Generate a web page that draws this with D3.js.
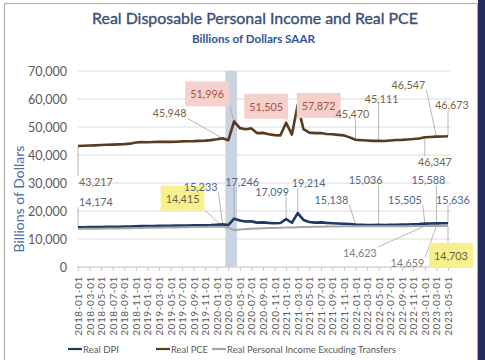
<!DOCTYPE html>
<html><head><meta charset="utf-8">
<script src="https://cdn.jsdelivr.net/npm/d3@7/dist/d3.min.js"></script>
<style>
body{margin:0;background:#fff}
svg{display:block}
text{font-family:Lato,'Open Sans',sans-serif}
</style>
</head><body>
<svg id="c" width="485" height="360"></svg>
<script>
// ---------- DATA ----------
const months = d3.timeMonth.range(new Date(2018,0,1), new Date(2023,5,1)).map(d3.timeFormat("%Y-%m-%d"));
const realDPI = [14174,14190,14230,14260,14290,14330,14360,14390,14420,14480,14540,14600,
  14640,14660,14690,14700,14730,14760,14790,14810,14850,14900,14930,14960,
  15100,15233,14950,17246,16600,16250,16300,15850,15950,15750,15600,15700,
  17099,15800,19214,16800,16100,15850,15950,15750,15650,15550,15450,15350,
  15138,15080,15020,14990,15036,15010,15060,15090,15120,15180,15250,15320,
  15505,15550,15588,15610,15636];
const realPCE = [43217,43300,43380,43450,43560,43650,43720,43800,43900,44050,44450,44600,
  44550,44620,44700,44720,44680,44750,44850,44900,44950,45050,45150,45300,
  45600,45948,45300,51996,49600,49200,49500,47800,47900,47400,47100,47000,
  51505,47300,57872,49200,48000,47800,47850,47500,47400,47200,47000,46300,
  45470,45300,45200,45050,45111,45000,45200,45350,45400,45550,45700,45900,
  46347,46450,46547,46600,46673];
const realPIxTransfers = [13600,13620,13650,13680,13700,13730,13760,13790,13820,13860,13900,13940,
  13990,14020,14050,14080,14110,14150,14180,14210,14250,14290,14330,14370,
  14390,14415,14050,13150,13350,13600,13700,13780,13850,13900,13950,14000,
  14080,14120,14200,14250,14300,14350,14400,14430,14470,14500,14540,14570,
  14560,14580,14560,14530,14520,14510,14530,14550,14560,14580,14600,14610,
  14623,14640,14659,14680,14703];
const yTicks = [0,10000,20000,30000,40000,50000,60000,70000];
const recessionMonths = ["2020-03-01","2020-04-01"];
const seriesNames = ["Real DPI","Real PCE","Real Personal Income Excuding Transfers"];
const labeledMonths = { // month indices carrying data labels
  dpi:[0,25,27,36,38,48,52,60,62,64],
  pce:[0,25,27,36,38,48,52,60,62,64],
  pix:[25,60,62,64]
};

// ---------- LAYOUT / STYLE ----------
const W=485,H=360;
const svg=d3.select("#c");
const x=d3.scalePoint().domain(months).range([78,448]);
const y=d3.scaleLinear().domain([0,70000]).range([267,71]);
const step=x.step();
const colors={dpi:"#1f3864",pce:"#5a3b1f",pix:"#a6a6a6"};
const widths={dpi:2.6,pce:2.6,pix:2};
const data={dpi:realDPI,pce:realPCE,pix:realPIxTransfers};

// label placement: offset of label centre/baseline from its point, plus highlight
const labelStyle={
  pce:{0:[18,40],25:[-53,-21],27:[-27,-23,'pink'],36:[-20,-12,'pink'],38:[21,5,'pink'],48:[-3,-22],52:[3,-38],60:[10,29],62:[-28,-48],64:[4,-27]},
  dpi:{0:[18,-21],25:[-22,-33],27:[8,-33],36:[-14,-23],38:[11,-26],48:[-24,-21],52:[-13,-41],60:[-20,-20],62:[-8,-39],64:[5,-19]},
  pix:{25:[-40,-24,'yellow'],60:[-65,31],62:[-29,41],64:[3,34,'yellow']}
};
const labelColor={pce:"#7b6446",dpi:"#4f6787",pix:"#808080"};

// fit a text's font size so its natural width equals target
function fitWidth(sel, target){
  const base=+sel.attr("font-size");
  const w=sel.node().getComputedTextLength();
  sel.attr("font-size",(base*target/w).toFixed(2));
}

// frame
svg.append("rect").attr("x",4.5).attr("y",3.5).attr("width",473).attr("height",360).attr("fill","#fff").attr("stroke","#b0b0b0").attr("stroke-width",1.2);
svg.append("rect").attr("x",478).attr("y",0).attr("width",7).attr("height",H).attr("fill","#262d5e");

// titles
const title=svg.append("text").attr("x",255).attr("y",24).attr("text-anchor","middle")
  .attr("font-size",18).attr("fill","#3a4e78")
  .attr("stroke","#3a4e78").attr("stroke-width",0.35)
  .text("Real Disposable Personal Income and Real PCE");
fitWidth(title,326);
const sub=svg.append("text").attr("x",253.5).attr("y",42.5).attr("text-anchor","middle")
  .attr("font-size",11.5).attr("font-weight","bold").attr("fill","#2f5597")
  .text("Billions of Dollars SAAR");
fitWidth(sub,123);

// gridlines
const gx0=77,gx1=451;
svg.append("g").selectAll("line").data(yTicks).join("line")
  .attr("x1",gx0).attr("x2",gx1).attr("y1",d=>y(d)).attr("y2",d=>y(d))
  .attr("stroke","#dadada").attr("stroke-width",1);

// y axis labels
const yAxis=d3.axisLeft(y).tickValues(yTicks).tickFormat(d3.format(",")).tickSize(0).tickPadding(0);
const yg=svg.append("g").attr("transform","translate(67,0)").call(yAxis);
yg.select(".domain").remove();
yg.selectAll("text").attr("font-size",12.5).attr("fill","#595959").attr("font-family","Lato,'Open Sans',sans-serif");

// y title
svg.append("text").attr("transform","translate(24,199) rotate(-90)").attr("text-anchor","middle")
  .attr("font-size",14).attr("fill","#4a6ea8").text("Billions of Dollars");

// recession band
svg.append("rect").attr("x",x(recessionMonths[0])-step/2).attr("width",x(recessionMonths[1])-x(recessionMonths[0])+step)
  .attr("y",y(70000)).attr("height",y(0)-y(70000)).attr("fill","#c9d3e1");

// x axis
const xAxis=d3.axisBottom(x).tickValues(months.filter((d,i)=>i%2===0)).tickSize(4).tickPadding(0);
const xg=svg.append("g").attr("transform","translate(0,267)").call(xAxis);
xg.select(".domain").attr("d",`M${gx0},0H${gx1}`).attr("stroke","#d0d0d0");
xg.selectAll(".tick line").attr("stroke","#c8c8c8");
xg.selectAll("text").attr("font-size",10).attr("fill","#595959").attr("font-family","Lato,'Open Sans',sans-serif")
  .attr("letter-spacing",0.6)
  .attr("text-anchor","end").attr("transform","translate(0,9) rotate(-90)").attr("x",0).attr("y",0).attr("dy","0.35em");

// lines
const line=d3.line().x((d,i)=>x(months[i])).y(d=>y(d));
const leaderLayer=svg.append("g");
["dpi","pce","pix"].forEach(k=>{
  svg.append("path").datum(data[k]).attr("d",line).attr("fill","none")
    .attr("stroke",colors[k]).attr("stroke-width",widths[k]).attr("stroke-linejoin","round");
});

// data labels
const fmt=d3.format(",");
const boxLayer=svg.append("g");
const lab=svg.append("g");
["pce","dpi","pix"].forEach(k=>{
  labeledMonths[k].forEach(m=>{
    const st=labelStyle[k][m];
    const px=x(months[m]), py=y(data[k][m]);
    const t=lab.append("text").attr("x",px+st[0]).attr("y",py+st[1]).attr("text-anchor","middle")
      .attr("font-size",10.8).attr("fill",st[2]==='pink'?"#a4544a":(st[2]==='yellow'?"#6f6040":labelColor[k]))
      .text(fmt(data[k][m]));
    const b=t.node().getBBox();
    let pad=[0,0];
    if(st[2]){
      pad=[5,7];
      boxLayer.append("rect").attr("x",b.x-pad[0]).attr("y",b.y-pad[1]+1).attr("width",b.width+2*pad[0]).attr("height",b.height+2*pad[1]-2)
        .attr("fill",st[2]==='pink'?"#f6d0cc":"#f7f08e");
    }
    const L=b.x-pad[0]-1, R=b.x+b.width+pad[0]+1, T=b.y-pad[1]+1, B=b.y+b.height+pad[1]-1;
    const sx=Math.max(L,Math.min(R,px)), sy=Math.max(T,Math.min(B,py));
    if(Math.hypot(sx-px,sy-py)>3){
      leaderLayer.append("line").attr("x1",sx).attr("y1",sy).attr("x2",px).attr("y2",py)
        .attr("stroke","#a6a6a6").attr("stroke-width",0.8);
    }
  });
});

// legend
const legend=svg.append("g").attr("transform","translate(0,353)");
const legItems=[{k:"dpi",x:68,tw:36},{k:"pce",x:156,tw:37},{k:"pix",x:212,tw:169}];
legItems.forEach((it,i)=>{
  legend.append("line").attr("x1",it.x).attr("x2",it.x+14).attr("y1",-4).attr("y2",-4).attr("stroke",colors[it.k]).attr("stroke-width",2.2);
  const t=legend.append("text").attr("x",it.x+15).attr("y",0).attr("font-size",12).attr("fill","#595959")
    .text(seriesNames[i]);
  fitWidth(t,it.tw);
});
</script>
</body></html>
